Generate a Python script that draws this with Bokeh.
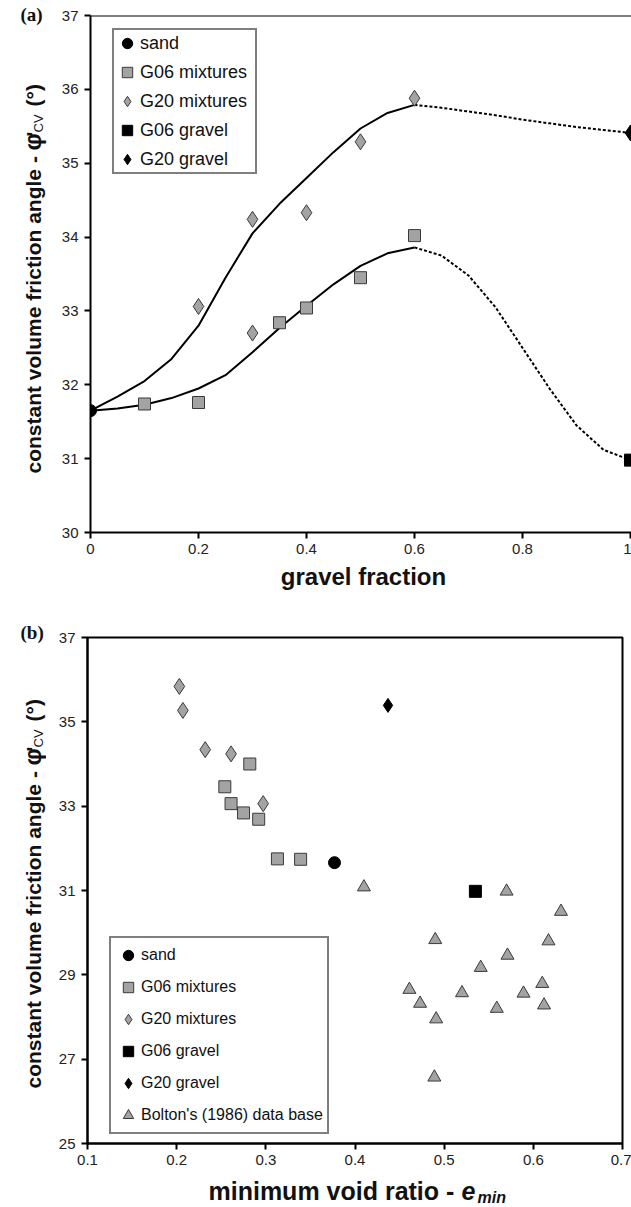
from math import pi
from bokeh.plotting import figure
from bokeh.models import Legend, LegendItem, Span, FixedTicker
from bokeh.layouts import column, row
from bokeh.core.properties import value
from bokeh.embed import file_html
from bokeh.resources import INLINE

# ---------------- panel (a): friction angle vs gravel fraction ----------------
a_sand_x = [0.0]
a_sand_y = [31.65]
a_g06_mix_x = [0.1, 0.2, 0.35, 0.4, 0.5, 0.6]
a_g06_mix_y = [31.74, 31.76, 32.84, 33.04, 33.45, 34.02]
a_g20_mix_x = [0.2, 0.3, 0.3, 0.4, 0.5, 0.6]
a_g20_mix_y = [33.06, 34.24, 32.70, 34.33, 35.29, 35.88]
a_g06_grav_x = [1.0]
a_g06_grav_y = [30.98]
a_g20_grav_x = [1.0]
a_g20_grav_y = [35.41]

# trend curves
g20_solid_x = [0.0, 0.05, 0.1, 0.15, 0.2, 0.25, 0.3, 0.35, 0.4, 0.45, 0.5, 0.55, 0.6]
g20_solid_y = [31.65, 31.84, 32.05, 32.35, 32.8, 33.45, 34.05, 34.45, 34.8, 35.15, 35.47, 35.68, 35.79]
g20_dash_x = [0.6, 0.65, 0.7, 0.75, 0.8, 0.85, 0.9, 0.95, 1.0]
g20_dash_y = [35.79, 35.75, 35.70, 35.65, 35.59, 35.54, 35.49, 35.45, 35.41]
g06_solid_x = [0.0, 0.05, 0.1, 0.15, 0.2, 0.25, 0.3, 0.35, 0.4, 0.45, 0.5, 0.55, 0.6]
g06_solid_y = [31.65, 31.68, 31.73, 31.82, 31.95, 32.13, 32.44, 32.77, 33.07, 33.36, 33.61, 33.78, 33.86]
g06_dash_x = [0.6, 0.65, 0.7, 0.75, 0.8, 0.85, 0.9, 0.95, 1.0]
g06_dash_y = [33.86, 33.75, 33.48, 33.05, 32.5, 31.95, 31.45, 31.12, 30.98]

a_xticks = [0, 0.2, 0.4, 0.6, 0.8, 1.0]
a_xtick_labels = ["0", "0.2", "0.4", "0.6", "0.8", "1"]
a_yticks = [30, 31, 32, 33, 34, 35, 36, 37]
a_ytick_labels = ["30", "31", "32", "33", "34", "35", "36", "37"]

# ---------------- panel (b): friction angle vs minimum void ratio ----------------
b_sand_e = [0.377]
b_sand_phi = [31.66]
b_g06_mix_e = [0.254, 0.261, 0.275, 0.282, 0.292, 0.313, 0.339]
b_g06_mix_phi = [33.46, 33.06, 32.84, 34.00, 32.69, 31.75, 31.74]
b_g20_mix_e = [0.203, 0.207, 0.232, 0.261, 0.297]
b_g20_mix_phi = [35.84, 35.27, 34.34, 34.24, 33.06]
b_g06_grav_e = [0.535]
b_g06_grav_phi = [30.98]
b_g20_grav_e = [0.437]
b_g20_grav_phi = [35.39]
bolton_e = [0.410, 0.570, 0.631, 0.490, 0.617, 0.571, 0.541, 0.610,
            0.461, 0.520, 0.589, 0.473, 0.612, 0.559, 0.491, 0.489]
bolton_phi = [31.08, 30.98, 30.50, 29.83, 29.80, 29.46, 29.17, 28.79,
              28.65, 28.57, 28.56, 28.32, 28.28, 28.20, 27.95, 26.57]

b_xticks = [0.1, 0.2, 0.3, 0.4, 0.5, 0.6, 0.7]
b_xtick_labels = ["0.1", "0.2", "0.3", "0.4", "0.5", "0.6", "0.7"]
b_yticks = [25, 27, 29, 31, 33, 35, 37]
b_ytick_labels = ["25", "27", "29", "31", "33", "35", "37"]

FONT = "Liberation Sans"
GRAY = "#a3a3a3"
EDGE = "#3a3a3a"
INK = "#111111"
MID = 0.3465  # distance from alphabetic baseline to em-box middle, in font sizes


def style_axes(p, xticks, xlabels, yticks, ylabels):
    p.xaxis.ticker = FixedTicker(ticks=xticks)
    p.yaxis.ticker = FixedTicker(ticks=yticks)
    p.xaxis.major_label_overrides = dict(zip(xticks, xlabels))
    p.yaxis.major_label_overrides = dict(zip(yticks, ylabels))
    for ax in (p.xaxis[0], p.yaxis[0]):
        ax.axis_line_width = 2
        ax.axis_line_color = "black"
        ax.major_tick_line_width = 2
        ax.major_tick_line_color = "black"
        ax.major_tick_out = 6
        ax.major_tick_in = 0
        ax.minor_tick_line_color = None
        ax.major_label_text_font = FONT
        ax.major_label_text_font_size = "15px"
        ax.major_label_text_color = "#222222"
    p.xaxis.major_label_standoff = 5
    p.yaxis.major_label_standoff = 6
    p.xgrid.grid_line_color = None
    p.ygrid.grid_line_color = None


def text_fig(w, h):
    f = figure(width=w, height=h, output_backend="svg", toolbar_location=None, title=None,
               x_range=(0, w), y_range=(0, h), x_axis_location=None, y_axis_location=None,
               min_border_left=0, min_border_right=0, min_border_top=0, min_border_bottom=0,
               frame_align=False)
    f.outline_line_color = None
    f.xgrid.grid_line_color = None
    f.ygrid.grid_line_color = None
    f.background_fill_color = "white"
    f.border_fill_color = "white"
    return f


def put(f, x, y, txt, size, style="bold", angle=0.0, align="left", font=FONT):
    # (x, y) = start of the alphabetic baseline in the text figure's pixel coordinates
    if angle:
        xm, ym = x - MID * size, y
    else:
        xm, ym = x, y + MID * size
    f.text(x=[xm], y=[ym], text=[txt], angle=angle, text_font=value(font),
           text_font_style=style, text_font_size=f"{size}px", text_align=align,
           text_baseline="middle", text_color=INK)


def ytitle(f, xb, y0):
    put(f, xb, y0, "constant volume friction angle - ", 21, angle=pi / 2)
    put(f, xb, y0 + 323, "\u03c6", 24, angle=pi / 2)
    put(f, xb, y0 + 337, "'", 20, angle=pi / 2)
    put(f, xb + 3, y0 + 341, "CV", 13, style="normal", angle=pi / 2)
    put(f, xb, y0 + 367, "(\u00b0)", 21, angle=pi / 2)


# ---------------- figure (a) ----------------
pa = figure(width=583, height=560, output_backend="svg", toolbar_location=None, title=None,
            x_range=(0, 541 / 540), y_range=(30, 37), frame_align=False,
            min_border_left=42, min_border_right=0, min_border_top=15, min_border_bottom=28)
pa.outline_line_color = None
pa.background_fill_color = "white"
pa.border_fill_color = "white"
style_axes(pa, a_xticks, a_xtick_labels, a_yticks, a_ytick_labels)
pa.add_layout(Span(location=37, dimension="width", line_color="black", line_width=2))

pa.line(g20_solid_x, g20_solid_y, line_color="black", line_width=2)
pa.line(g20_dash_x, g20_dash_y, line_color="black", line_width=2, line_dash="3 2")
pa.line(g06_solid_x, g06_solid_y, line_color="black", line_width=2)
pa.line(g06_dash_x, g06_dash_y, line_color="black", line_width=2, line_dash="3 2")

ra_sand = pa.scatter(a_sand_x, a_sand_y, marker="circle", size=12, fill_color="black", line_color="black")
ra_g06m = pa.scatter(a_g06_mix_x, a_g06_mix_y, marker="square", size=12, fill_color=GRAY, line_color=EDGE, line_width=1)
ra_g20m = pa.scatter(a_g20_mix_x, a_g20_mix_y, marker="diamond", size=16,
                     fill_color=GRAY, line_color=EDGE, line_width=1)
ra_g06g = pa.scatter(a_g06_grav_x, a_g06_grav_y, marker="square", size=12, fill_color="black", line_color="black")
ra_g20g = pa.scatter(a_g20_grav_x, a_g20_grav_y, marker="diamond", size=16, fill_color="black", line_color="black")

leg_a = Legend(items=[LegendItem(label="sand", renderers=[ra_sand]),
                      LegendItem(label="G06 mixtures", renderers=[ra_g06m]),
                      LegendItem(label="G20 mixtures", renderers=[ra_g20m]),
                      LegendItem(label="G06 gravel", renderers=[ra_g06g]),
                      LegendItem(label="G20 gravel", renderers=[ra_g20g])],
               location=(22, 358), margin=0, padding=0, spacing=3,
               glyph_width=26, glyph_height=26, label_height=26,
               label_standoff=0, label_width=115,
               label_text_font=FONT, label_text_font_size="18px", label_text_color=INK,
               border_line_color="black", border_line_width=2,
               background_fill_color="white", background_fill_alpha=1)
pa.add_layout(leg_a)

ta_left = text_fig(48, 560)
ytitle(ta_left, 40, 87)
ta_left.text(x=[20], y=[546], text=["(a)"], text_font=value("Liberation Serif"),
             text_font_style="bold", text_font_size="19px", text_align="left",
             text_baseline="middle", text_color=INK)

ta_bottom = text_fig(631, 40)
put(ta_bottom, 363, 16, "gravel fraction", 24, align="center")

# ---------------- figure (b) ----------------
pb = figure(width=585, height=573, output_backend="svg", toolbar_location=None, title=None,
            x_range=(0.1, 0.7), y_range=(25, 37), frame_align=False,
            min_border_left=41, min_border_right=9, min_border_top=37, min_border_bottom=30)
pb.outline_line_color = "black"
pb.outline_line_width = 2
pb.background_fill_color = "white"
pb.border_fill_color = "white"
style_axes(pb, b_xticks, b_xtick_labels, b_yticks, b_ytick_labels)

rb_sand = pb.scatter(b_sand_e, b_sand_phi, marker="circle", size=12, fill_color="black", line_color="black")
rb_g06m = pb.scatter(b_g06_mix_e, b_g06_mix_phi, marker="square", size=12, fill_color=GRAY, line_color=EDGE, line_width=1)
rb_g20m = pb.scatter(b_g20_mix_e, b_g20_mix_phi, marker="diamond", size=16,
                     fill_color=GRAY, line_color=EDGE, line_width=1)
rb_g06g = pb.scatter(b_g06_grav_e, b_g06_grav_phi, marker="square", size=12, fill_color="black", line_color="black")
rb_g20g = pb.scatter(b_g20_grav_e, b_g20_grav_phi, marker="diamond", size=14, fill_color="black", line_color="black")
rb_bol = pb.scatter(bolton_e, bolton_phi, marker="triangle", size=13, fill_color=GRAY, line_color=EDGE, line_width=1)

leg_b = Legend(items=[LegendItem(label="sand", renderers=[rb_sand]),
                      LegendItem(label="G06 mixtures", renderers=[rb_g06m]),
                      LegendItem(label="G20 mixtures", renderers=[rb_g20m]),
                      LegendItem(label="G06 gravel", renderers=[rb_g06g]),
                      LegendItem(label="G20 gravel", renderers=[rb_g20g]),
                      LegendItem(label="Bolton's (1986) data base", renderers=[rb_bol])],
               location=(22, 9), margin=0, padding=4, spacing=6,
               glyph_width=26, glyph_height=26, label_height=26,
               label_standoff=0, label_width=182,
               label_text_font=FONT, label_text_font_size="16px", label_text_color=INK,
               border_line_color="black", border_line_width=2,
               background_fill_color="white", background_fill_alpha=1)
pb.add_layout(leg_b)

tb_left = text_fig(46, 573)
ytitle(tb_left, 40, 85)
tb_left.text(x=[20], y=[541], text=["(b)"], text_font=value("Liberation Serif"),
             text_font_style="bold", text_font_size="19px", text_align="left",
             text_baseline="middle", text_color=INK)

tb_bottom = text_fig(631, 34)
put(tb_bottom, 208, 8, "minimum void ratio - ", 25)
put(tb_bottom, 461, 8, "e", 25, style="bold italic")
put(tb_bottom, 477, 4, "min", 16, style="bold italic")

layout = column(row(ta_left, pa, spacing=0), ta_bottom,
                row(tb_left, pb, spacing=0), tb_bottom, spacing=0)
open("out.html", "w").write(file_html(layout, INLINE))
